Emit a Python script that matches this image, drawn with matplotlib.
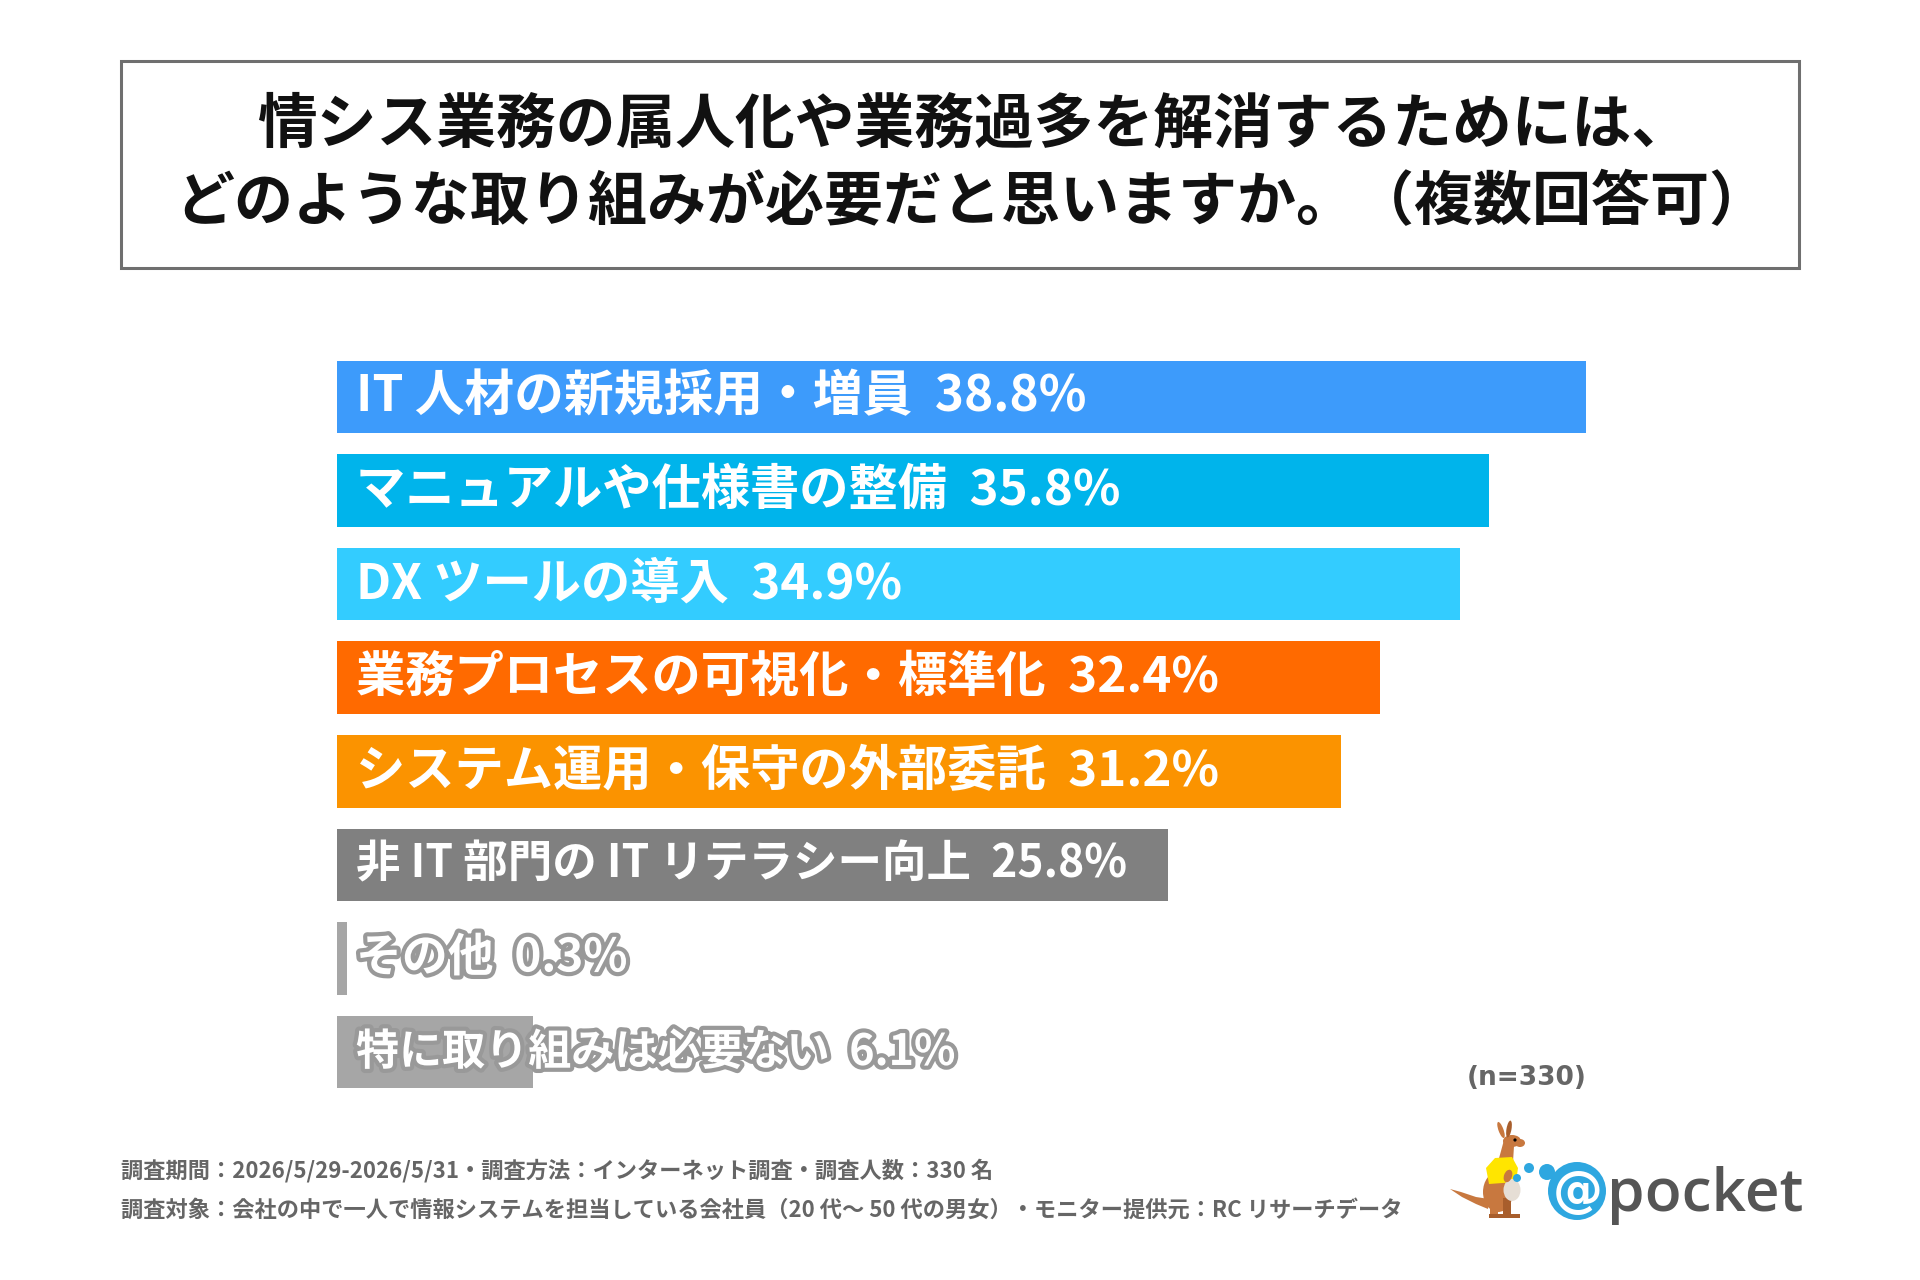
import matplotlib
matplotlib.use("Agg")
import matplotlib.pyplot as plt
import matplotlib.patheffects as pe
from matplotlib.patches import Rectangle, Ellipse, Circle, Polygon

plt.rcParams['font.family'] = ['Noto Sans CJK JP', 'DejaVu Sans']

# ---------------- data ----------------
title_lines = ["情シス業務の属人化や業務過多を解消するためには、",
               "どのような取り組みが必要だと思いますか。（複数回答可）"]
categories = ["IT 人材の新規採用・増員",
              "マニュアルや仕様書の整備",
              "DX ツールの導入",
              "業務プロセスの可視化・標準化",
              "システム運用・保守の外部委託",
              "非 IT 部門の IT リテラシー向上",
              "その他",
              "特に取り組みは必要ない"]
values = [38.8, 35.8, 34.9, 32.4, 31.2, 25.8, 0.3, 6.1]
n_note = "(n=330)"
footnotes = ["調査期間：2026/5/29-2026/5/31・調査方法：インターネット調査・調査人数：330 名",
             "調査対象：会社の中で一人で情報システムを担当している会社員（20 代～ 50 代の男女）・モニター提供元：RC リサーチデータ"]

# ---------------- styles ----------------
bar_colors = ["#3D9BFB", "#00B4EB", "#33CCFF", "#FF6A00", "#FB9300",
              "#808080", "#A6A6A6", "#A6A6A6"]
label_sizes = [35.8, 35.5, 35.5, 35.5, 35.5, 32, 33, 31]
outlined = [False, False, False, False, False, False, True, True]

W, H = 1920, 1280
fig = plt.figure(figsize=(W / 100, H / 100), dpi=100)
fig.patch.set_facecolor("white")

# decoration axes in pixel coordinates
bg = fig.add_axes([0, 0, 1, 1])
bg.set_xlim(0, W)
bg.set_ylim(H, 0)
bg.axis("off")

# title box
bg.add_patch(Rectangle((121, 61), 1678, 207, fill=False, edgecolor="#6F6F6F", lw=2.2))
bg.text(974, 126, title_lines[0], ha="center", va="center", fontsize=43,
        fontweight="bold", color="#111111")
bg.text(972, 203, title_lines[1], ha="center", va="center", fontsize=42.5,
        fontweight="bold", color="#111111")

# ---------------- bar chart ----------------
px_per_pct = 32.19
x_left = 337
xmax = 45
ax_w = xmax * px_per_pct
pitch = 93.57
c_first = 397
top_px = c_first - pitch / 2
bot_px = c_first + pitch * (len(values) - 0.5)
ax = fig.add_axes([x_left / W, (H - bot_px) / H, ax_w / W, (bot_px - top_px) / H])
ax.set_xlim(0, xmax)
ax.set_ylim(len(values) - 0.5, -0.5)
ax.axis("off")
ax.patch.set_alpha(0)

ypos = list(range(len(values)))
ax.barh(ypos, values, height=0.775, color=bar_colors, edgecolor="none")

for i, (cat, v) in enumerate(zip(categories, values)):
    txt = ax.annotate(f"{cat}  {v}%", xy=(0, i), xytext=(13.7, 0),
                      textcoords="offset points", ha="left", va="center",
                      fontsize=label_sizes[i], fontweight="bold", color="white")
    if outlined[i]:
        txt.set_path_effects([pe.withStroke(linewidth=6, foreground="#999999")])

# n note
bg.text(1587, 1078, n_note, ha="right", va="center", fontsize=19,
        fontweight="bold", color="#666666", family="DejaVu Sans")

# footnotes
bg.text(121, 1171, footnotes[0], ha="left", va="center", fontsize=16,
        fontweight="bold", color="#666666")
bg.text(121, 1210, footnotes[1], ha="left", va="center", fontsize=16,
        fontweight="bold", color="#666666")

# ---------------- logo ----------------
brown = "#C8783F"
dark_brown = "#A85E2C"
# tail
bg.add_patch(Polygon([[1450, 1189], [1462, 1197], [1476, 1204], [1488, 1209],
                      [1489, 1199], [1476, 1197], [1461, 1192]], closed=True,
                     color=brown, lw=0))
# lower body
bg.add_patch(Ellipse((1498, 1192), 30, 40, color=brown, lw=0))
# legs / feet
bg.add_patch(Rectangle((1490, 1198), 8, 19, color=brown, lw=0))
bg.add_patch(Rectangle((1503, 1198), 8, 19, color=dark_brown, lw=0))
bg.add_patch(Rectangle((1489, 1214), 16, 4, color=dark_brown, lw=0))
bg.add_patch(Rectangle((1502, 1214), 18, 4, color=dark_brown, lw=0))
# neck
bg.add_patch(Polygon([[1498, 1162], [1513, 1162], [1514, 1146], [1504, 1140]],
                     closed=True, color=brown, lw=0))
# yellow shirt
bg.add_patch(Polygon([[1486, 1168], [1495, 1158], [1512, 1157], [1518, 1168],
                      [1516, 1182], [1489, 1184]], closed=True, color="#FFE500", lw=0))
# pouch
bg.add_patch(Ellipse((1512, 1190), 17, 22, color="#E6DED5", lw=0))
bg.add_patch(Circle((1517, 1178), 4, color="#2EA7E0", lw=0))
# arm
bg.add_patch(Ellipse((1508, 1176), 8, 13, angle=20, color=brown, lw=0))
# head
bg.add_patch(Ellipse((1512, 1141), 18, 12, color=brown, lw=0))
bg.add_patch(Ellipse((1520, 1143), 10, 8, color=brown, lw=0))
# ears
bg.add_patch(Ellipse((1501, 1130), 5, 17, angle=-20, color=brown, lw=0))
bg.add_patch(Ellipse((1509, 1129), 5, 17, angle=10, color=dark_brown, lw=0))
# eye
bg.add_patch(Circle((1515, 1140), 1.6, color="black", lw=0))
# blue dots
bg.add_patch(Circle((1529, 1168), 5, color="#2EA7E0", lw=0))
bg.add_patch(Circle((1547, 1172), 8, color="#2EA7E0", lw=0))
# @ circle
bg.add_patch(Circle((1577, 1191), 29, color="#2EA7E0", lw=0))
bg.text(1578, 1192, "@", ha="center", va="center", fontsize=36, fontweight="bold",
        color="white", family="DejaVu Sans")
bg.text(1607, 1211, "pocket", ha="left", va="baseline", fontsize=43.5,
        color="#555555", family="Open Sans", fontweight="semibold")

fig.savefig("out.png", dpi=100, facecolor="white")
